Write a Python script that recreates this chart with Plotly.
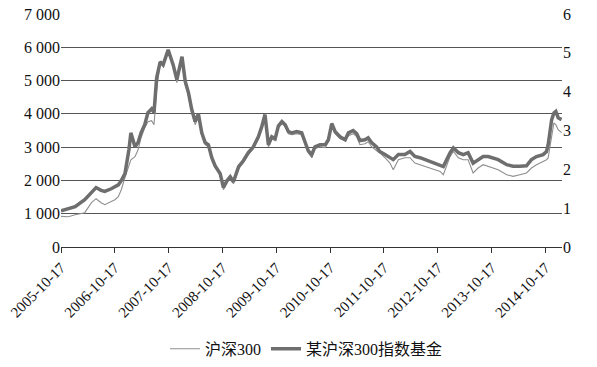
import plotly.graph_objects as go

dates = [
    "2005-10-17", "2005-12-06", "2006-01-21", "2006-03-27", "2006-05-12", "2006-06-12", "2006-07-16", "2006-08-10", "2006-09-23", "2006-10-18",
    "2006-11-10", "2006-11-30", "2006-12-25", "2007-01-21", "2007-02-03", "2007-03-03", "2007-03-24", "2007-04-13", "2007-05-08", "2007-05-30",
    "2007-06-24", "2007-07-10", "2007-07-28", "2007-08-21", "2007-09-10", "2007-10-14", "2007-11-17", "2007-12-12", "2008-01-16", "2008-02-07",
    "2008-02-29", "2008-03-22", "2008-04-14", "2008-05-06", "2008-05-29", "2008-06-21", "2008-07-13", "2008-08-05", "2008-08-28", "2008-10-01",
    "2008-10-23", "2008-11-16", "2008-12-08", "2008-12-30", "2009-02-03", "2009-03-07", "2009-04-10", "2009-05-14", "2009-06-17", "2009-07-10",
    "2009-08-01", "2009-08-24", "2009-09-16", "2009-10-09", "2009-10-31", "2009-11-24", "2009-12-16", "2010-01-07", "2010-01-30", "2010-03-04",
    "2010-04-07", "2010-04-29", "2010-05-21", "2010-06-14", "2010-07-06", "2010-08-09", "2010-09-13", "2010-10-05", "2010-10-28", "2010-11-20",
    "2010-12-23", "2011-01-27", "2011-02-18", "2011-03-22", "2011-04-15", "2011-05-07", "2011-06-10", "2011-07-02", "2011-07-25", "2011-08-28",
    "2011-09-18", "2011-10-24", "2011-11-27", "2011-12-19", "2012-01-23", "2012-03-07", "2012-04-11", "2012-05-14", "2012-06-18", "2012-07-21",
    "2012-08-24", "2012-09-28", "2012-11-01", "2012-11-23", "2012-12-16", "2013-01-08", "2013-01-30", "2013-03-05", "2013-04-07", "2013-05-10",
    "2013-06-13", "2013-07-17", "2013-08-20", "2013-09-23", "2013-10-27", "2013-11-30", "2014-01-27", "2014-03-11", "2014-04-26", "2014-06-10",
    "2014-07-14", "2014-08-17", "2014-10-01", "2014-10-24", "2014-11-04", "2014-11-16", "2014-11-28", "2014-12-13", "2014-12-26", "2015-01-11",
    "2015-02-03",
]

csi300 = [
    919, 910, 971, 1031, 1331, 1451, 1331, 1271, 1370, 1421,
    1511, 1721, 2082, 2412, 2622, 2713, 2923, 3283, 3584, 3764,
    3794, 3673, 4725, 5527, 5467, 5837, 5467, 4935, 5627, 4875,
    4545, 4034, 3674, 3914, 3364, 3073, 3013, 2622, 2382, 2142,
    1721, 1931, 2052, 1901, 2352, 2532, 2773, 2953, 3253, 3554,
    3884, 3013, 3253, 3193, 3584, 3704, 3614, 3404, 3373, 3404,
    3373, 3103, 2833, 2682, 2953, 3013, 2983, 3163, 3644, 3404,
    3253, 3193, 3343, 3404, 3314, 3073, 3103, 3163, 3013, 2893,
    2833, 2682, 2523, 2322, 2622, 2682, 2682, 2523, 2472, 2422,
    2373, 2322, 2271, 2172, 2472, 2722, 2872, 2682, 2622, 2622,
    2223, 2373, 2472, 2422, 2373, 2322, 2172, 2121, 2172, 2223,
    2373, 2472, 2571, 2622, 2674, 3022, 3425, 3725, 3674, 3524, 3434,
]

fund_nav = [
    0.93, 0.99, 1.04, 1.22, 1.42, 1.53, 1.46, 1.43, 1.50, 1.55,
    1.60, 1.71, 1.89, 2.51, 2.94, 2.58, 2.69, 2.94, 3.15, 3.46,
    3.56, 3.46, 4.36, 4.77, 4.69, 5.08, 4.69, 4.31, 4.90, 4.26,
    3.97, 3.54, 3.23, 3.43, 2.94, 2.69, 2.63, 2.30, 2.09, 1.89,
    1.53, 1.71, 1.81, 1.68, 2.07, 2.22, 2.43, 2.58, 2.84, 3.10,
    3.41, 2.63, 2.84, 2.79, 3.12, 3.23, 3.15, 2.97, 2.94, 2.97,
    2.94, 2.71, 2.48, 2.38, 2.58, 2.63, 2.63, 2.76, 3.18, 2.97,
    2.84, 2.76, 2.94, 3.00, 2.92, 2.74, 2.76, 2.81, 2.69, 2.58,
    2.46, 2.38, 2.30, 2.25, 2.38, 2.38, 2.46, 2.33, 2.30, 2.25,
    2.20, 2.16, 2.11, 2.07, 2.25, 2.43, 2.55, 2.43, 2.38, 2.43,
    2.16, 2.25, 2.33, 2.33, 2.30, 2.25, 2.12, 2.08, 2.08, 2.09,
    2.25, 2.33, 2.38, 2.46, 2.63, 3.02, 3.28, 3.45, 3.49, 3.33, 3.28,
]

x_tick_dates = ["2005-10-17", "2006-10-17", "2007-10-17", "2008-10-17", "2009-10-17",
                "2010-10-17", "2011-10-17", "2012-10-17", "2013-10-17", "2014-10-17"]
left_ticks = [0, 1000, 2000, 3000, 4000, 5000, 6000, 7000]
left_tick_text = ["0", "1 000", "2 000", "3 000", "4 000", "5 000", "6 000", "7 000"]
right_ticks = [0, 1, 2, 3, 4, 5, 6]

FONT = "Liberation Serif"
CJK_FONT = "Liberation Serif, Noto Sans CJK SC"

fig = go.Figure()
fig.add_trace(go.Scatter(
    x=dates, y=csi300, name="沪深300", mode="lines",
    line=dict(color="#8f8f8f", width=1.1), yaxis="y",
))
fig.add_trace(go.Scatter(
    x=dates, y=fund_nav, name="某沪深300指数基金", mode="lines",
    line=dict(color="#6e6e6e", width=3.5), yaxis="y2",
))

fig.update_layout(
    width=597, height=367,
    margin=dict(l=61, r=35, t=14, b=120, autoexpand=False),
    paper_bgcolor="white", plot_bgcolor="white",
    font=dict(family=FONT, size=15, color="#111"),
    showlegend=True,
    legend=dict(orientation="h", x=0.49, xanchor="center", y=-0.437, yanchor="middle",
                font=dict(family=CJK_FONT, size=16, color="#111"), bgcolor="rgba(0,0,0,0)"),
    xaxis=dict(
        type="date", range=["2005-10-17", "2015-02-06"],
        tickvals=x_tick_dates, ticktext=x_tick_dates, tickangle=-45,
        showgrid=False, zeroline=False, showline=True, linecolor="#333", linewidth=1.2,
        ticks="outside", ticklen=5, tickcolor="#333", tickwidth=1.2,
        tickfont=dict(family=FONT, size=15, color="#111"), automargin=False,
    ),
    yaxis=dict(
        range=[0, 7000], tickvals=left_ticks, ticktext=left_tick_text,
        showgrid=True, gridcolor="#555", gridwidth=1.4, zeroline=False,
        showline=False, ticks="", automargin=False,
        tickfont=dict(family=FONT, size=16, color="#111"),
    ),
    yaxis2=dict(
        range=[0, 6], tickvals=right_ticks, overlaying="y", side="right",
        showgrid=False, zeroline=False, showline=False, ticks="", automargin=False,
        tickfont=dict(family=FONT, size=16, color="#111"),
    ),
)

fig.write_html("out.html", config={"displayModeBar": False},
               post_script="document.body.style.margin='0';")
